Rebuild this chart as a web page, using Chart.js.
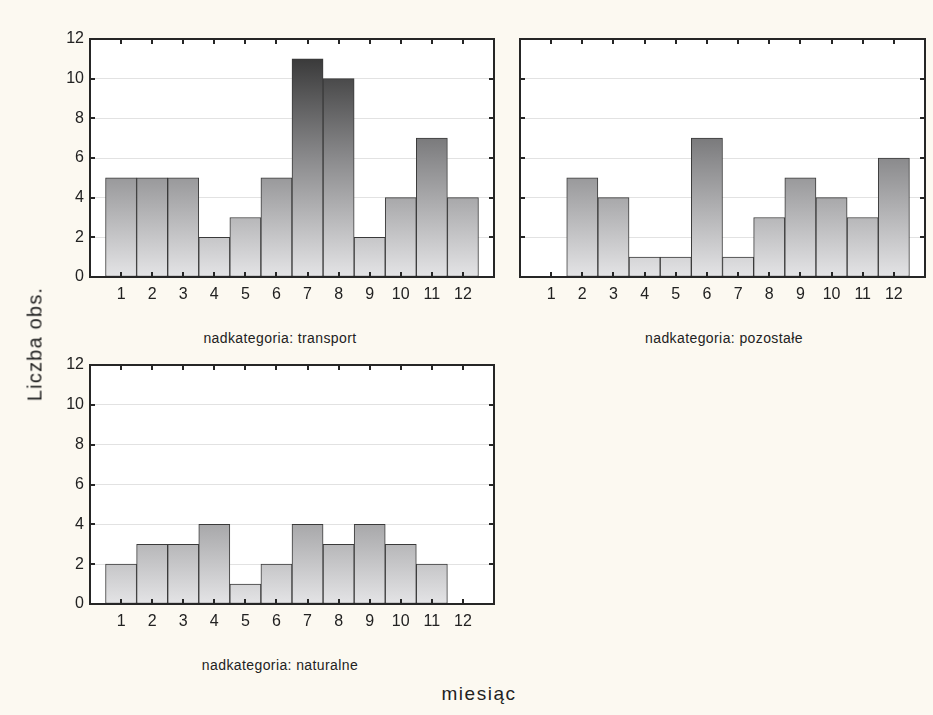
<!DOCTYPE html>
<html>
<head>
<meta charset="utf-8">
<script src="https://cdn.jsdelivr.net/npm/chart.js@4.4.0/dist/chart.umd.min.js"></script>
<style>
    html, body { margin: 0; padding: 0; }
    body { width: 933px; height: 715px; background: #fcf9f1; position: relative; overflow: hidden;
           font-family: "Liberation Sans", Arial, sans-serif; color: #222; }
    canvas { position: absolute; }
    .lbl { position: absolute; white-space: nowrap; transform: translate(-50%, -50%); }
    .panel-title { font-size: 14px; letter-spacing: 0.4px; }
</style>
</head>
<body>
<canvas id="c1" width="456" height="287" style="left:40px;top:30px"></canvas>
<canvas id="c2" width="457" height="287" style="left:470px;top:30px"></canvas>
<canvas id="c3" width="456" height="288" style="left:40px;top:356px"></canvas>

<div class="lbl panel-title" style="left:280px;top:338px">nadkategoria: transport</div>
<div class="lbl panel-title" style="left:724px;top:338px">nadkategoria: pozostałe</div>
<div class="lbl panel-title" style="left:280px;top:665px">nadkategoria: naturalne</div>
<div class="lbl" style="left:479px;top:694px;font-size:19px;letter-spacing:1.5px">miesiąc</div>
<div class="lbl" style="left:35px;top:344px;font-size:20px;letter-spacing:1.2px;transform:translate(-50%,-50%) rotate(-90deg)">Liczba obs.</div>

<script>
// data
const months = [1, 2, 3, 4, 5, 6, 7, 8, 9, 10, 11, 12];
const transport = [5, 5, 5, 2, 3, 5, 11, 10, 2, 4, 7, 4];
const pozostale = [0, 5, 4, 1, 1, 7, 1, 3, 5, 4, 3, 6];
const naturalne = [2, 3, 3, 4, 1, 2, 4, 3, 4, 3, 2, 0];
const yTicks = [0, 2, 4, 6, 8, 10, 12];

const tickFont = { family: '"Liberation Sans", Arial, sans-serif', size: 16 };

// white plot area, black frame and inward tick marks
const framePlugin = {
    id: 'frame',
    beforeDraw(chart) {
        const a = chart.chartArea;
        const ctx = chart.ctx;
        ctx.save();
        ctx.fillStyle = '#ffffff';
        ctx.fillRect(a.left, a.top, a.right - a.left, a.bottom - a.top);
        ctx.restore();
    },
    afterDraw(chart) {
        const a = chart.chartArea;
        const ctx = chart.ctx;
        const xs = chart.scales.x, ys = chart.scales.y;
        ctx.save();
        ctx.strokeStyle = '#262626';
        ctx.lineWidth = 2;
        ctx.beginPath();
        ys.ticks.forEach(t => {
            const y = Math.round(ys.getPixelForValue(t.value));
            ctx.moveTo(a.left, y); ctx.lineTo(a.left + 5, y);
            ctx.moveTo(a.right, y); ctx.lineTo(a.right - 5, y);
        });
        xs.ticks.forEach(t => {
            const x = Math.round(xs.getPixelForValue(t.value));
            ctx.moveTo(x, a.bottom); ctx.lineTo(x, a.bottom - 5);
            ctx.moveTo(x, a.top); ctx.lineTo(x, a.top + 5);
        });
        ctx.stroke();
        ctx.strokeRect(a.left, a.top, a.right - a.left, a.bottom - a.top);
        ctx.restore();
    }
};

function barFill(context) {
    const a = context.chart.chartArea;
    if (!a) return '#999999';
    const g = context.chart.ctx.createLinearGradient(0, a.bottom, 0, a.top);
    g.addColorStop(0, '#e4e4e6');
    g.addColorStop(0.5, '#8a8a8c');
    g.addColorStop(1, '#2a2a2a');
    return g;
}

function makePanel(id, values, showYLabels) {
    new Chart(document.getElementById(id), {
        type: 'bar',
        data: {
            datasets: [{
                data: months.map((m, i) => ({ x: m, y: values[i] })),
                backgroundColor: barFill,
                borderColor: '#3a3a3a',
                borderWidth: 1,
                borderSkipped: false,
                categoryPercentage: 1,
                barPercentage: 1
            }]
        },
        options: {
            responsive: false,
            animation: false,
            layout: { padding: { top: 9, right: 2, left: 0, bottom: 0 } },
            plugins: { legend: { display: false }, tooltip: { enabled: false } },
            scales: {
                x: {
                    type: 'linear',
                    min: 0,
                    max: 13,
                    offset: false,
                    afterBuildTicks: s => { s.ticks = months.map(v => ({ value: v })); },
                    afterFit: s => { s.height = 40; s.paddingLeft = 0; s.paddingRight = 0; },
                    grid: { display: false, drawTicks: false },
                    border: { display: false },
                    ticks: { autoSkip: false, maxRotation: 0, padding: 8, font: tickFont, color: '#222' }
                },
                y: {
                    min: 0,
                    max: 12,
                    afterBuildTicks: s => { s.ticks = yTicks.map(v => ({ value: v })); },
                    afterFit: s => { s.width = 50; s.paddingTop = 0; s.paddingBottom = 0; },
                    grid: { color: '#e2e2e2', lineWidth: 1, drawTicks: false },
                    border: { display: false },
                    ticks: { display: showYLabels, padding: 6, font: tickFont, color: '#222' }
                }
            }
        },
        plugins: [framePlugin]
    });
}

makePanel('c1', transport, true);
makePanel('c2', pozostale, false);
makePanel('c3', naturalne, true);
</script>
</body>
</html>
